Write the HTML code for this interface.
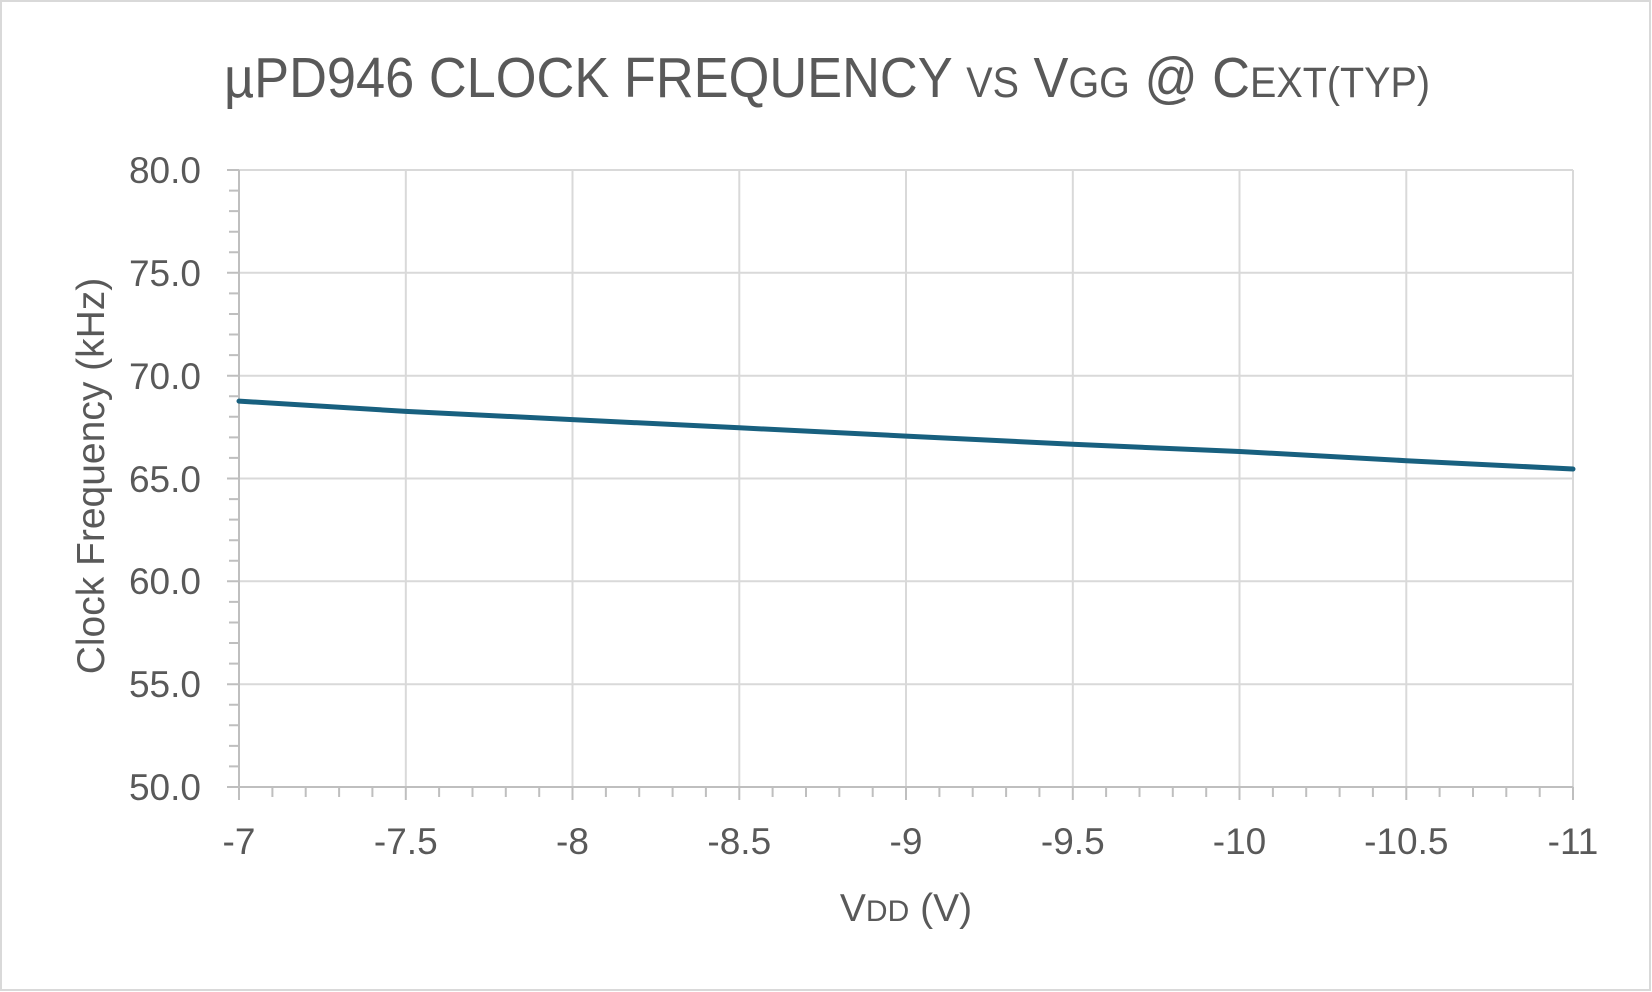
<!DOCTYPE html>
<html><head><meta charset="utf-8"><style>
html,body{margin:0;padding:0;background:#fff}
svg{display:block}
text{font-family:"Liberation Sans",sans-serif;fill:#595959}
</style></head><body>
<svg width="1652" height="992" viewBox="0 0 1652 992" xmlns="http://www.w3.org/2000/svg">
<rect x="1" y="1" width="1649" height="989" fill="#fff" stroke="#d9d9d9" stroke-width="2"/>
<text x="224" y="97" font-size="57" textLength="1206" lengthAdjust="spacingAndGlyphs">µPD946 CLOCK FREQUENCY <tspan font-size="43">VS</tspan> V<tspan font-size="43">GG</tspan> @ C<tspan font-size="43">EXT(TYP)</tspan></text>
<g stroke="#d9d9d9" stroke-width="2">
<line x1="239" y1="170" x2="1573" y2="170"/>
<line x1="239" y1="272.8" x2="1573" y2="272.8"/>
<line x1="239" y1="375.7" x2="1573" y2="375.7"/>
<line x1="239" y1="478.5" x2="1573" y2="478.5"/>
<line x1="239" y1="581.3" x2="1573" y2="581.3"/>
<line x1="239" y1="684.2" x2="1573" y2="684.2"/>
<line x1="405.8" y1="170" x2="405.8" y2="787"/>
<line x1="572.5" y1="170" x2="572.5" y2="787"/>
<line x1="739.3" y1="170" x2="739.3" y2="787"/>
<line x1="906" y1="170" x2="906" y2="787"/>
<line x1="1072.8" y1="170" x2="1072.8" y2="787"/>
<line x1="1239.5" y1="170" x2="1239.5" y2="787"/>
<line x1="1406.3" y1="170" x2="1406.3" y2="787"/>
<line x1="1573" y1="170" x2="1573" y2="787"/>
</g>
<g stroke="#bfbfbf" stroke-width="2" fill="none">
<line x1="239" y1="170" x2="239" y2="787"/>
<line x1="239" y1="787" x2="1573" y2="787"/>
<path d="M227 170h12M229 190.6h10M229 211.1h10M229 231.7h10M229 252.3h10M227 272.8h12M229 293.4h10M229 314h10M229 334.5h10M229 355.1h10M227 375.7h12M229 396.2h10M229 416.8h10M229 437.4h10M229 457.9h10M227 478.5h12M229 499.1h10M229 519.6h10M229 540.2h10M229 560.8h10M227 581.3h12M229 601.9h10M229 622.5h10M229 643h10M229 663.6h10M227 684.2h12M229 704.7h10M229 725.3h10M229 745.9h10M229 766.4h10M227 787h12"/>
<path d="M239 787v13M272.4 787v10M305.7 787v10M339.1 787v10M372.4 787v10M405.8 787v13M439.1 787v10M472.5 787v10M505.8 787v10M539.2 787v10M572.5 787v13M605.9 787v10M639.2 787v10M672.6 787v10M705.9 787v10M739.3 787v13M772.6 787v10M806 787v10M839.3 787v10M872.7 787v10M906 787v13M939.4 787v10M972.7 787v10M1006.1 787v10M1039.4 787v10M1072.8 787v13M1106.1 787v10M1139.5 787v10M1172.8 787v10M1206.2 787v10M1239.5 787v13M1272.9 787v10M1306.2 787v10M1339.6 787v10M1372.9 787v10M1406.3 787v13M1439.6 787v10M1473 787v10M1506.3 787v10M1539.7 787v10M1573 787v13"/>
</g>
<g font-size="37" text-anchor="end">
<text x="201" y="183">80.0</text>
<text x="201" y="286">75.0</text>
<text x="201" y="389">70.0</text>
<text x="201" y="492">65.0</text>
<text x="201" y="594">60.0</text>
<text x="201" y="697">55.0</text>
<text x="201" y="800">50.0</text>
</g>
<g font-size="37" text-anchor="middle">
<text x="239" y="854">-7</text>
<text x="405.8" y="854">-7.5</text>
<text x="572.5" y="854">-8</text>
<text x="739.3" y="854">-8.5</text>
<text x="906" y="854">-9</text>
<text x="1072.8" y="854">-9.5</text>
<text x="1239.5" y="854">-10</text>
<text x="1406.3" y="854">-10.5</text>
<text x="1573" y="854">-11</text>
</g>
<text x="906" y="921" font-size="39" text-anchor="middle">V<tspan font-size="30">DD</tspan> (V)</text>
<text transform="translate(104,476) rotate(-90)" font-size="39" text-anchor="middle">Clock Frequency (kHz)</text>
<polyline fill="none" stroke="#18607f" stroke-width="5" stroke-linejoin="round" stroke-linecap="round"
points="239,401.1 405.8,411.4 572.5,419.6 739.3,427.8 906,436.1 1072.8,444.3 1239.5,451.5 1406.3,460.7 1573,469"/>
</svg>
</body></html>
